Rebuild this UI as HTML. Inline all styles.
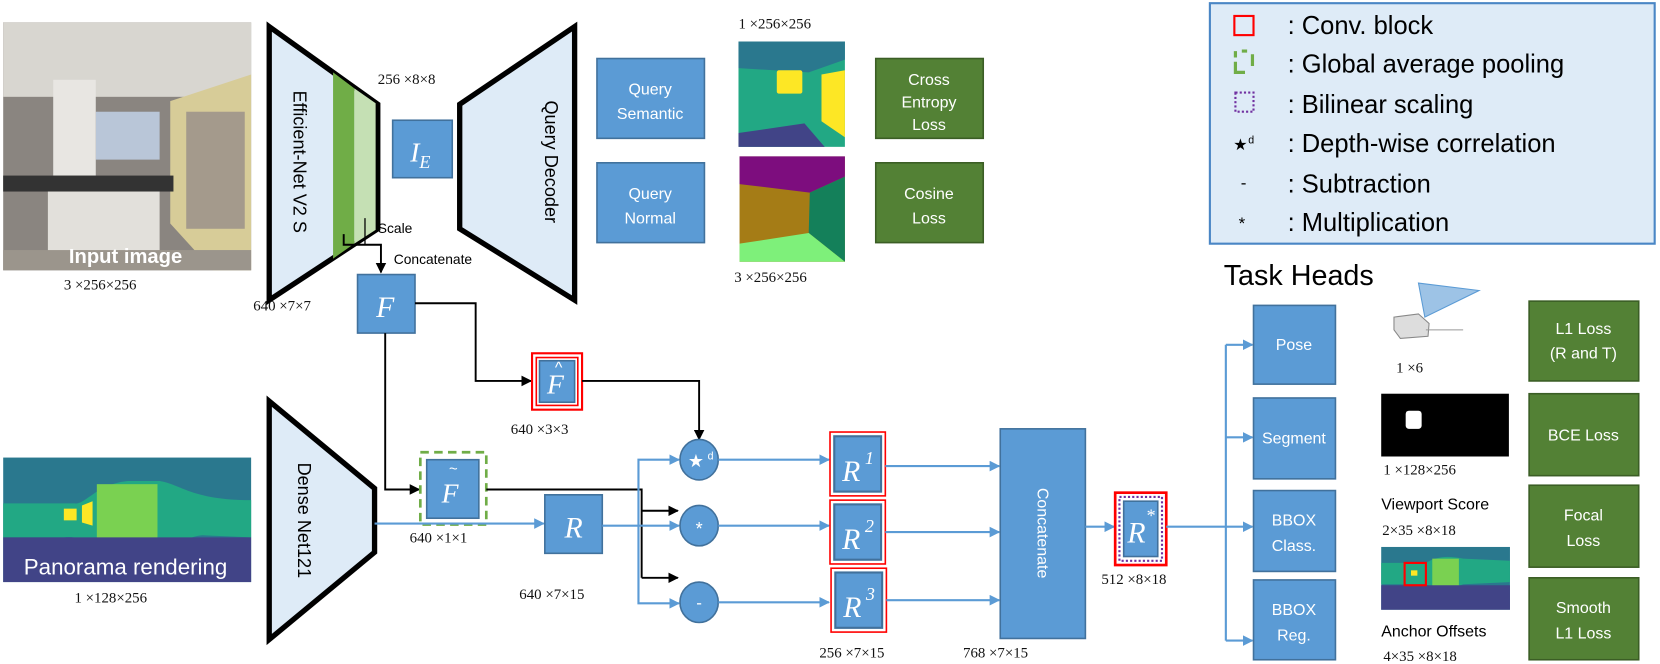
<!DOCTYPE html>
<html><head><meta charset="utf-8"><style>
html,body{margin:0;padding:0;background:#fff;}
svg{display:block;}
text{font-family:"Liberation Sans",sans-serif;}
.dim{font-family:"Liberation Serif",serif;font-size:14px;fill:#111;}
.bt{fill:#fff;font-size:15px;text-anchor:middle;}
.mi{font-family:"Liberation Serif",serif;font-style:italic;fill:#fff;text-anchor:middle;}
</style></head><body>
<svg width="1660" height="664" viewBox="0 0 1560 624" xmlns="http://www.w3.org/2000/svg">
<defs>
<marker id="ak" markerWidth="10" markerHeight="10" refX="9" refY="5" orient="auto" markerUnits="userSpaceOnUse"><path d="M0,0 L10,5 L0,10 z" fill="#000"/></marker>
<marker id="ab" markerWidth="10" markerHeight="10" refX="9" refY="5" orient="auto" markerUnits="userSpaceOnUse"><path d="M0,0 L10,5 L0,10 z" fill="#5b9bd5"/></marker>
</defs>

<!-- Input image -->
<rect x="3" y="21" width="233" height="233" fill="#8a8580"/>
<rect x="3" y="21" width="233" height="70" fill="#d8d6d0"/>
<polygon points="160,95 236,70 236,254 200,254 160,210" fill="#d7cc98"/>
<rect x="90" y="105" width="60" height="45" fill="#b9c6d8"/>
<rect x="175" y="105" width="55" height="110" fill="#a49a8c"/>
<rect x="50" y="75" width="40" height="90" fill="#e8e6e2"/>
<rect x="3" y="165" width="160" height="15" fill="#333"/>
<rect x="45" y="180" width="105" height="65" fill="#e2e0db"/>
<rect x="3" y="235" width="233" height="19" fill="#9b958c"/>
<text x="118" y="247" font-size="19" font-weight="bold" fill="#fff" text-anchor="middle">Input image</text>
<text class="dim" x="60" y="272">3 ×256×256</text>

<!-- Encoder -->
<polygon points="253,25 355,98 355,215 253,282" fill="#deebf7" stroke="#000" stroke-width="5"/>
<polygon points="313,68 333,83 333,229 313,243" fill="#70ad47"/>
<polygon points="333,83 353,97 353,216 333,229" fill="#c5e0b4"/>
<text x="0" y="0" font-size="17" transform="translate(276,152) rotate(90)" text-anchor="middle">Efficient-Net V2 S</text>
<text class="dim" x="355" y="79">256  ×8×8</text>
<rect x="369" y="113" width="56" height="54" fill="#5b9bd5" stroke="#41719c" stroke-width="1.5"/>
<text class="mi" x="395" y="152" font-size="26">I<tspan font-size="17" dy="6">E</tspan></text>

<!-- decoder -->
<polygon points="540,25 540,282 432,215 432,98" fill="#deebf7" stroke="#000" stroke-width="5"/>
<text x="0" y="0" font-size="17" transform="translate(512,152) rotate(90)" text-anchor="middle">Query Decoder</text>

<rect x="561" y="55" width="101" height="75" fill="#5b9bd5" stroke="#41719c" stroke-width="1.5"/>
<text class="bt" x="611" y="89">Query</text><text class="bt" x="611" y="112">Semantic</text>
<rect x="561" y="153" width="101" height="75" fill="#5b9bd5" stroke="#41719c" stroke-width="1.5"/>
<text class="bt" x="611" y="187">Query</text><text class="bt" x="611" y="210">Normal</text>

<text class="dim" x="694" y="27">1  ×256×256</text>
<rect x="694" y="39" width="100" height="99" fill="#22a884"/>
<polygon points="694,39 794,39 794,56 760,68 694,64" fill="#2a788e"/>
<polygon points="694,125 756,116 775,138 694,138" fill="#414487"/>
<rect x="730" y="66" width="24" height="22" rx="2" fill="#fde725"/>
<polygon points="772,70 794,66 794,129 772,114" fill="#fde725"/>
<rect x="823" y="55" width="101" height="75" fill="#538135" stroke="#3b5e25" stroke-width="1.5"/>
<text class="bt" x="873" y="80">Cross</text><text class="bt" x="873" y="101">Entropy</text><text class="bt" x="873" y="122">Loss</text>

<rect x="695" y="147" width="99" height="99" fill="#a57c16"/>
<polygon points="695,147 794,147 794,166 761,181 695,173" fill="#7d0d7e"/>
<polygon points="761,181 794,166 794,246 760,219" fill="#14805a"/>
<polygon points="695,229 760,219 794,246 695,246" fill="#7ef07a"/>
<text class="dim" x="690" y="265">3  ×256×256</text>
<rect x="823" y="153" width="101" height="75" fill="#538135" stroke="#3b5e25" stroke-width="1.5"/>
<text class="bt" x="873" y="187">Cosine</text><text class="bt" x="873" y="210">Loss</text>

<!-- Scale / concatenate -->
<polyline points="323,220 323,230 358,230 358,256" fill="none" stroke="#000" stroke-width="1.8" marker-end="url(#ak)"/>
<line x1="343" y1="205" x2="343" y2="230" stroke="#000" stroke-width="1.2"/>
<text x="355" y="219" font-size="13">Scale</text>
<text x="370" y="248" font-size="13">Concatenate</text>

<rect x="336" y="258" width="54" height="55" fill="#5b9bd5" stroke="#41719c" stroke-width="1.5"/>
<text class="mi" x="362" y="298" font-size="28">F</text>
<text class="dim" x="238" y="292">640  ×7×7</text>

<!-- F to Fhat -->
<polyline points="390,285 447,285 447,358 499,358" fill="none" stroke="#000" stroke-width="1.8" marker-end="url(#ak)"/>
<rect x="500" y="332" width="47" height="53" fill="none" stroke="#f00" stroke-width="2"/>
<rect x="504" y="336" width="39" height="45" fill="#fff" stroke="#f00" stroke-width="1.5"/>
<rect x="507" y="339" width="33" height="39" fill="#5b9bd5" stroke="#41719c" stroke-width="1.5"/>
<text class="mi" x="522" y="370" font-size="26">F</text>
<text x="525" y="350" font-size="15" fill="#fff" text-anchor="middle">^</text>
<text class="dim" x="480" y="408">640  ×3×3</text>
<polyline points="547,358 657,358 657,413" fill="none" stroke="#000" stroke-width="1.8" marker-end="url(#ak)"/>

<!-- F to Ftilde -->
<polyline points="362,313 362,460 394,460" fill="none" stroke="#000" stroke-width="1.8" marker-end="url(#ak)"/>
<rect x="395" y="425" width="62" height="68" fill="none" stroke="#70ad47" stroke-width="2.5" stroke-dasharray="8,5"/>
<rect x="401" y="432" width="49" height="55" fill="#5b9bd5" stroke="#41719c" stroke-width="1.5"/>
<text class="mi" x="423" y="472" font-size="26">F</text>
<text x="426" y="445" font-size="14" fill="#fff" text-anchor="middle">~</text>
<text class="dim" x="385" y="510">640  ×1×1</text>
<polyline points="457,460 603,460 603,543" fill="none" stroke="#000" stroke-width="1.8"/>
<line x1="603" y1="480" x2="637" y2="480" stroke="#000" stroke-width="1.8" marker-end="url(#ak)"/>
<line x1="603" y1="543" x2="637" y2="543" stroke="#000" stroke-width="1.8" marker-end="url(#ak)"/>

<!-- Dense net -->
<polygon points="253,377 352,459 352,519 253,601" fill="#deebf7" stroke="#000" stroke-width="5"/>
<text x="0" y="0" font-size="17" transform="translate(280,489) rotate(90)" text-anchor="middle">Dense Net121</text>

<!-- panorama -->
<rect x="3" y="430" width="233" height="117" fill="#2a788e"/>
<path d="M3,473 L70,473 C80,475 90,455 120,452 L150,452 C170,455 180,470 236,470 L236,505 L190,503 C170,505 160,520 130,522 L110,522 C90,520 80,502 60,505 L3,505 Z" fill="#22a884"/>
<rect x="91" y="455" width="57" height="66" fill="#7ad151"/>
<rect x="60" y="478" width="12" height="11" fill="#fde725"/>
<polygon points="77,475 87,471 87,494 77,491" fill="#fde725"/>
<rect x="3" y="505" width="233" height="42" fill="#414487"/>
<text x="118" y="540" font-size="21" fill="#fff" text-anchor="middle">Panorama rendering</text>
<text class="dim" x="70" y="566">1 ×128×256</text>

<!-- R -->
<line x1="352" y1="492" x2="511" y2="492" stroke="#5b9bd5" stroke-width="2" marker-end="url(#ab)"/>
<rect x="512" y="465" width="54" height="55" fill="#5b9bd5" stroke="#41719c" stroke-width="1.5"/>
<text class="mi" x="539" y="505" font-size="28">R</text>
<text class="dim" x="488" y="563">640  ×7×15</text>
<line x1="566" y1="494" x2="638" y2="494" stroke="#5b9bd5" stroke-width="2" marker-end="url(#ab)"/>
<polyline points="600,494 600,432 638,432" fill="none" stroke="#5b9bd5" stroke-width="2" marker-end="url(#ab)"/>
<polyline points="600,494 600,567 638,567" fill="none" stroke="#5b9bd5" stroke-width="2" marker-end="url(#ab)"/>

<!-- circles -->
<ellipse cx="657" cy="432" rx="18" ry="19" fill="#5b9bd5" stroke="#41719c" stroke-width="1.5"/>
<text x="654" y="439" font-size="17" fill="#fff" text-anchor="middle">★</text><text x="665" y="432" font-size="10" fill="#fff">d</text>
<ellipse cx="657" cy="494" rx="18" ry="19" fill="#5b9bd5" stroke="#41719c" stroke-width="1.5"/>
<text x="657" y="503" font-size="17" fill="#fff" text-anchor="middle">*</text>
<ellipse cx="657" cy="566" rx="18" ry="19" fill="#5b9bd5" stroke="#41719c" stroke-width="1.5"/>
<text x="657" y="572" font-size="16" fill="#fff" text-anchor="middle">-</text>

<line x1="675" y1="432" x2="779" y2="432" stroke="#5b9bd5" stroke-width="2" marker-end="url(#ab)"/>
<line x1="675" y1="494" x2="779" y2="494" stroke="#5b9bd5" stroke-width="2" marker-end="url(#ab)"/>
<line x1="675" y1="566" x2="779" y2="566" stroke="#5b9bd5" stroke-width="2" marker-end="url(#ab)"/>

<!-- R1..R3 -->
<g>
<rect x="780" y="406" width="52" height="60" fill="none" stroke="#f00" stroke-width="1.5"/>
<rect x="784" y="410" width="44" height="52" fill="#5b9bd5" stroke="#41719c" stroke-width="2"/>
<text class="mi" x="800" y="452" font-size="28">R</text><text class="mi" x="817" y="436" font-size="17">1</text>
<rect x="780" y="470" width="52" height="60" fill="none" stroke="#f00" stroke-width="1.5"/>
<rect x="784" y="474" width="44" height="52" fill="#5b9bd5" stroke="#41719c" stroke-width="2"/>
<text class="mi" x="800" y="516" font-size="28">R</text><text class="mi" x="817" y="500" font-size="17">2</text>
<rect x="781" y="534" width="52" height="60" fill="none" stroke="#f00" stroke-width="1.5"/>
<rect x="785" y="538" width="44" height="52" fill="#5b9bd5" stroke="#41719c" stroke-width="2"/>
<text class="mi" x="801" y="580" font-size="28">R</text><text class="mi" x="818" y="564" font-size="17">3</text>
</g>
<text class="dim" x="770" y="618">256  ×7×15</text>

<line x1="832" y1="438" x2="939" y2="438" stroke="#5b9bd5" stroke-width="2" marker-end="url(#ab)"/>
<line x1="832" y1="500" x2="939" y2="500" stroke="#5b9bd5" stroke-width="2" marker-end="url(#ab)"/>
<line x1="833" y1="564" x2="939" y2="564" stroke="#5b9bd5" stroke-width="2" marker-end="url(#ab)"/>

<rect x="940" y="403" width="80" height="197" fill="#5b9bd5" stroke="#41719c" stroke-width="1.5"/>
<text x="0" y="0" font-size="15" fill="#fff" transform="translate(975,501) rotate(90)" text-anchor="middle">Concatenate</text>
<text class="dim" x="905" y="618">768  ×7×15</text>

<line x1="1020" y1="495" x2="1047" y2="495" stroke="#5b9bd5" stroke-width="2" marker-end="url(#ab)"/>
<!-- R* -->
<rect x="1048" y="463" width="48" height="68" fill="none" stroke="#f00" stroke-width="2.5"/>
<rect x="1052" y="467" width="40" height="60" fill="#fff" stroke="#7030a0" stroke-width="2" stroke-dasharray="2,2"/>
<rect x="1056" y="471" width="32" height="52" fill="#5b9bd5" stroke="#41719c" stroke-width="1.5"/>
<text class="mi" x="1068" y="510" font-size="28">R</text><text class="mi" x="1081" y="490" font-size="17">*</text>
<text class="dim" x="1035" y="549">512  ×8×18</text>

<!-- to heads -->
<line x1="1096" y1="495" x2="1177" y2="495" stroke="#5b9bd5" stroke-width="2" marker-end="url(#ab)"/>
<line x1="1152" y1="324" x2="1152" y2="602" stroke="#5b9bd5" stroke-width="2"/>
<line x1="1152" y1="324" x2="1177" y2="324" stroke="#5b9bd5" stroke-width="2" marker-end="url(#ab)"/>
<line x1="1152" y1="411" x2="1177" y2="411" stroke="#5b9bd5" stroke-width="2" marker-end="url(#ab)"/>
<line x1="1152" y1="602" x2="1177" y2="602" stroke="#5b9bd5" stroke-width="2" marker-end="url(#ab)"/>

<text x="1150" y="268" font-size="27" fill="#000">Task Heads</text>
<g stroke="#41719c" stroke-width="1.5" fill="#5b9bd5">
<rect x="1178" y="287" width="77" height="74"/>
<rect x="1178" y="374" width="77" height="76"/>
<rect x="1178" y="461" width="77" height="76"/>
<rect x="1178" y="545" width="77" height="75"/>
</g>
<text class="bt" x="1216" y="329">Pose</text>
<text class="bt" x="1216" y="417">Segment</text>
<text class="bt" x="1216" y="494">BBOX</text><text class="bt" x="1216" y="518">Class.</text>
<text class="bt" x="1216" y="578">BBOX</text><text class="bt" x="1216" y="602">Reg.</text>

<!-- camera -->
<polygon points="1333,266 1390,273 1339,298" fill="#9dc3e6" stroke="#5b9bd5" stroke-width="1"/>
<polygon points="1310,298 1333,295 1343,304 1342,316 1316,318 1310,310" fill="#ddd" stroke="#888" stroke-width="1"/>
<line x1="1340" y1="310" x2="1375" y2="310" stroke="#999"/>
<text class="dim" x="1312" y="350">1  ×6</text>

<rect x="1298" y="370" width="120" height="59" fill="#000"/>
<rect x="1321" y="386" width="15" height="17" rx="3" fill="#fff"/>
<text class="dim" x="1300" y="446">1  ×128×256</text>
<text x="1298" y="479" font-size="15">Viewport Score</text>
<text class="dim" x="1299" y="503">2×35  ×8×18</text>
<rect x="1298" y="514" width="121" height="59" fill="#2a788e"/>
<path d="M1298,529 L1340,529 C1350,523 1360,522 1375,525 L1419,527 L1419,547 L1375,549 C1360,555 1350,555 1340,549 L1298,549Z" fill="#22a884"/>
<rect x="1346" y="525" width="25" height="29" fill="#7ad151"/>
<rect x="1298" y="550" width="121" height="23" fill="#414487"/>
<rect x="1320" y="529" width="20" height="21" fill="none" stroke="#f00" stroke-width="2"/>
<rect x="1326" y="536" width="6" height="5" fill="#fde725"/>
<text x="1298" y="598" font-size="15">Anchor Offsets</text>
<text class="dim" x="1300" y="621">4×35  ×8×18</text>

<g fill="#538135" stroke="#3b5e25" stroke-width="1.5">
<rect x="1437" y="283" width="103" height="75"/>
<rect x="1437" y="370" width="103" height="77"/>
<rect x="1437" y="456" width="103" height="77"/>
<rect x="1437" y="543" width="103" height="77"/>
</g>
<text class="bt" x="1488" y="314">L1 Loss</text><text class="bt" x="1488" y="337">(R and T)</text>
<text class="bt" x="1488" y="414">BCE Loss</text>
<text class="bt" x="1488" y="489">Focal</text><text class="bt" x="1488" y="513">Loss</text>
<text class="bt" x="1488" y="576">Smooth</text><text class="bt" x="1488" y="600">L1 Loss</text>

<!-- legend -->
<rect x="1137" y="3" width="418" height="226" fill="#deebf7" stroke="#4a86c5" stroke-width="2"/>
<rect x="1160" y="15" width="18" height="18" fill="none" stroke="#f00" stroke-width="2"/>
<path d="M1161,58 L1161,68 L1170,68 M1161,54 L1161,48 M1167,48 L1172,48 M1177,51 L1177,62" fill="none" stroke="#70ad47" stroke-width="3"/>
<rect x="1161" y="87" width="17" height="18" fill="none" stroke="#7030a0" stroke-width="2" stroke-dasharray="2,2"/>
<text x="1159" y="141" font-size="15">★</text><text x="1173" y="135" font-size="10">d</text>
<text x="1166" y="177" font-size="16">-</text>
<text x="1164" y="215" font-size="16">*</text>
<g font-size="24" fill="#000">
<text x="1210" y="32">: Conv. block</text>
<text x="1210" y="68">: Global average pooling</text>
<text x="1210" y="106">: Bilinear scaling</text>
<text x="1210" y="143">: Depth-wise correlation</text>
<text x="1210" y="181">: Subtraction</text>
<text x="1210" y="217">: Multiplication</text>
</g>
</svg>
</body></html>
